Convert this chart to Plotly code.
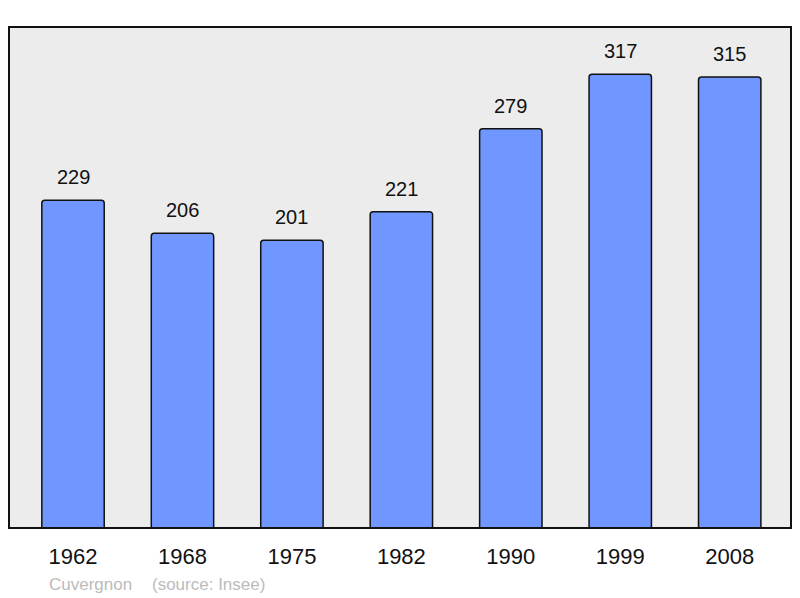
import plotly.graph_objects as go

years = ["1962", "1968", "1975", "1982", "1990", "1999", "2008"]
population = [229, 206, 201, 221, 279, 317, 315]

W, H = 784, 590
L, T, R, B = 1, 19, 783, 520  # plot area in figure pixels
pw, ph = R - L, B - T

fig = go.Figure()
fig.add_trace(go.Bar(
    x=list(range(len(years))),
    y=population,
    width=0.57,
    marker=dict(color="#7097ff", line=dict(color="#111111", width=1.5), cornerradius=3),
    hoverinfo="skip",
))

for i, v in enumerate(population):
    fig.add_annotation(x=i, y=v, text=str(v), showarrow=False, yanchor="bottom",
                       yshift=10, font=dict(size=20, color="#111111"))

fig.add_shape(type="rect", xref="paper", yref="paper", x0=0, x1=1, y0=0, y1=1,
              line=dict(color="#111111", width=2), layer="above")

foot_y = -(576 - B) / ph
fig.add_annotation(xref="paper", yref="paper", x=(39 - L) / pw, y=foot_y,
                   text="Cuvergnon", showarrow=False, xanchor="left", yanchor="middle",
                   font=dict(size=17, color="#bbbbbb"))
fig.add_annotation(xref="paper", yref="paper", x=(142 - L) / pw, y=foot_y,
                   text="(source: Insee)", showarrow=False, xanchor="left", yanchor="middle",
                   font=dict(size=17, color="#bbbbbb"))

fig.update_layout(
    width=W, height=H,
    margin=dict(l=L, r=W - R, t=T, b=H - B),
    paper_bgcolor="white",
    plot_bgcolor="#ececec",
    font=dict(family="Liberation Sans, Arial, sans-serif", color="#111111"),
    showlegend=False,
    xaxis=dict(range=[-0.585, 6.56], tickmode="array", tickvals=list(range(len(years))),
               ticktext=years, showgrid=False, zeroline=False, tickfont=dict(size=22),
               ticks="outside", ticklen=9, tickcolor="rgba(0,0,0,0)", fixedrange=True),
    yaxis=dict(range=[0, 350], showgrid=False, zeroline=False, showticklabels=False,
               fixedrange=True),
)

fig.write_html("out.html")
